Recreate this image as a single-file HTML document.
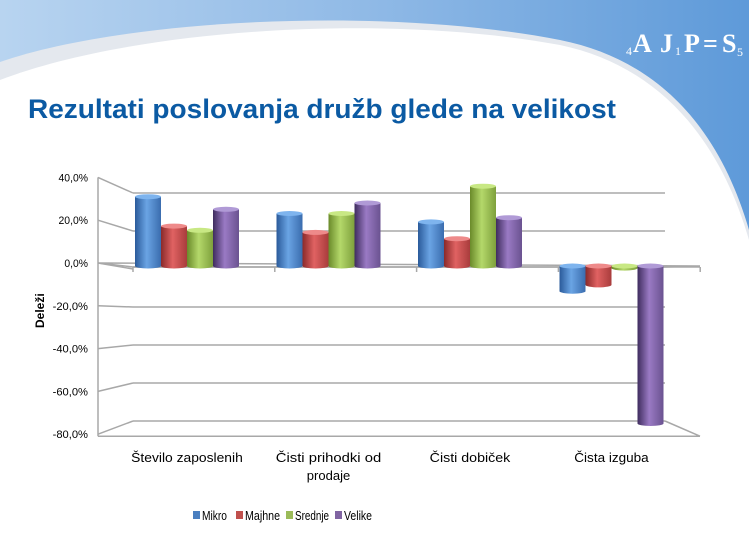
<!DOCTYPE html>
<html><head><meta charset="utf-8">
<style>
html,body{margin:0;padding:0;background:#fff;}
svg{display:block;font-family:"Liberation Sans",sans-serif;}
</style></head>
<body>
<svg width="749" height="533" viewBox="0 0 749 533">
<defs>
<linearGradient id="hdr" x1="0" x2="1" y1="0" y2="0">
<stop offset="0" stop-color="#b8d4f0"/><stop offset="0.5" stop-color="#8fb9e6"/><stop offset="1" stop-color="#5e9ad9"/>
</linearGradient>
<linearGradient id="gMikro" x1="0" x2="1"><stop offset="0" stop-color="#2a5a9a"/><stop offset="0.45" stop-color="#6aa4e4"/><stop offset="1" stop-color="#3a6cae"/></linearGradient>
<linearGradient id="gMajhne" x1="0" x2="1"><stop offset="0" stop-color="#8a2a2a"/><stop offset="0.45" stop-color="#e06262"/><stop offset="1" stop-color="#a83c3c"/></linearGradient>
<linearGradient id="gSrednje" x1="0" x2="1"><stop offset="0" stop-color="#6a8a2a"/><stop offset="0.45" stop-color="#b4d86a"/><stop offset="1" stop-color="#7ea03c"/></linearGradient>
<linearGradient id="gVelike" x1="0" x2="1"><stop offset="0" stop-color="#3e2c5e"/><stop offset="0.45" stop-color="#9a7ac4"/><stop offset="1" stop-color="#6a5290"/></linearGradient>
</defs>
<g>
<rect x="0" y="0" width="749" height="240" fill="url(#hdr)"/>
<path d="M0,160 L0,62 C120,20 380,5 560,40 C660,60 720,130 749,230 L749,533 L0,533 Z" fill="#e4e8ee"/>
<path d="M0,200 L0,80 C130,30 380,12 560,45 C660,66 720,140 749,240 L749,533 L0,533 Z" fill="#fff"/>
</g>
<g fill="#fff" font-family="Liberation Serif, serif">
<text x="626" y="55" font-size="12">4</text>
<text x="633" y="52" font-size="26" font-weight="bold">A</text>
<text x="660" y="52" font-size="26" font-weight="bold">J</text>
<text x="675" y="55" font-size="12">1</text>
<text x="684" y="52" font-size="26" font-weight="bold">P</text>
<text x="703" y="52" font-size="26" font-weight="bold">=</text>
<text x="722" y="52" font-size="26" font-weight="bold">S</text>
<text x="737" y="56" font-size="12">5</text>
</g>
<text x="28" y="118" font-size="27" font-weight="bold" fill="#0b5aa3" textLength="588" lengthAdjust="spacingAndGlyphs">Rezultati poslovanja družb glede na velikost</text>
<g id="chart"></g>
</svg>
<script>
const categories = ["Število zaposlenih", "Čisti prihodki od|prodaje", "Čisti dobiček", "Čista izguba"];
const series = ["Mikro", "Majhne", "Srednje", "Velike"];
const mikro = [33, 25, 21, -12];
const majhne = [19, 16, 13, -9];
const srednje = [17, 25, 38, -1];
const velike = [27, 30, 23, -75];
const ticks = [40, 20, 0, -20, -40, -60, -80];
const tickLabels = ["40,0%", "20,0%", "0,0%", "-20,0%", "-40,0%", "-60,0%", "-80,0%"];

const NS = "http://www.w3.org/2000/svg";
const chart = document.getElementById("chart");
function mk(tag, attrs, parent) {
  const e = document.createElementNS(NS, tag);
  for (const k in attrs) e.setAttribute(k, attrs[k]);
  (parent || chart).appendChild(e);
  return e;
}
const yFront = v => 263 - v * 2.14;
const yBack = v => 269 - v * 1.9;
const yBar = v => 266 - v * 2.1;
const FX = 98, BX = 133, BR = 665, FR = 700;
const catStart = i => 135 + i * 141.5;
const barW = 26;

ticks.forEach((t, i) => {
  if (t !== 0) {
    const l = mk("line", {x1: BX, y1: yBack(t), x2: BR, y2: yBack(t), stroke: "#a8a8a8", "stroke-width": 1.5});
    
    
  }
  const d = mk("line", {x1: FX, y1: yFront(t), x2: BX, y2: yBack(t), stroke: "#a8a8a8", "stroke-width": 1.5});
  
  
  const tx = mk("text", {x: 88, y: yFront(t) + 4, "text-anchor": "end", "font-size": 11, fill: "#000", textLength: tickLabels[i].length * 5.9, lengthAdjust: "spacingAndGlyphs"});
  tx.textContent = tickLabels[i];
  
  
});
const ax = mk("line", {x1: FX, y1: yFront(40), x2: FX, y2: yFront(-80) + 2, stroke: "#a8a8a8", "stroke-width": 1.5});


const bwall = mk("line", {x1: BR, y1: yBack(-80), x2: FR, y2: yFront(-80) + 2, stroke: "#a8a8a8", "stroke-width": 1.5});


const fl = mk("line", {x1: FX, y1: yFront(-80) + 2, x2: FR, y2: yFront(-80) + 2, stroke: "#a8a8a8", "stroke-width": 1.5});


const zp = mk("path", {d: `M${FX},${yFront(0)} L${BX},${yBack(0)-2} L${BR},${yBack(0)-2} L${FR},${yFront(0)+3} Z`, fill: "none", stroke: "#a8a8a8", "stroke-width": 1.5});


const zf = mk("line", {x1: BX, y1: yFront(0) + 4, x2: FR, y2: yFront(0) + 4, stroke: "#a8a8a8", "stroke-width": 1.5});


for (let i = 0; i <= 4; i++) {
  const x = 133 + i * 141.8;
  const tk = mk("line", {x1: x, y1: yFront(0) + 4, x2: x, y2: yFront(0) + 9, stroke: "#a8a8a8", "stroke-width": 1.5});
  
  
}

const allVals = [mikro, majhne, srednje, velike];
const grads = ["gMikro", "gMajhne", "gSrednje", "gVelike"];
const tops = ["#7eb4ee", "#ee8a8a", "#c8e884", "#b09ad6"];
categories.forEach((c, ci) => {
  series.forEach((s, si) => {
    const v = allVals[si][ci];
    const x = catStart(ci) + si * barW;
    const y0 = yBar(0), y1 = yBar(v);
    const top = Math.min(y0, y1), bot = Math.max(y0, y1);
    const g = mk("g", {});
    
    
    const rx = barW / 2, ry = 2.5;
    mk("path", {d: `M${x},${top} L${x},${bot} A${rx},${ry} 0 0 0 ${x + barW},${bot} L${x + barW},${top} Z`, fill: `url(#${grads[si]})`}, g);
    mk("ellipse", {cx: x + rx, cy: top, rx: rx, ry: ry, fill: tops[si]}, g);
  });
  const lines = c.split("|");
  lines.forEach((ln, li) => {
    const t = mk("text", {x: catStart(ci) + 2 * barW, y: 462 + li * 18, "text-anchor": "middle", "font-size": 12.5, fill: "#000", textLength: ln.length * 6.2, lengthAdjust: "spacingAndGlyphs"});
    t.textContent = ln;
    
    
  });
});

const yt = mk("text", {x: 0, y: 0, "font-size": 12, "font-weight": "bold", transform: "translate(44,328) rotate(-90)"});
yt.textContent = "Deleži";



const legX = [193, 236, 286, 335];
const legW = [25, 35, 34, 28];
const legC = ["#4a7fc0", "#c0504d", "#9bbb59", "#8064a2"];
series.forEach((s, i) => {
  const g = mk("g", {});
  
  
  mk("rect", {x: legX[i], y: 511, width: 7, height: 8, fill: legC[i]}, g);
  const t = mk("text", {x: legX[i] + 9, y: 520, "font-size": 12.5, fill: "#000", textLength: legW[i], lengthAdjust: "spacingAndGlyphs"}, g);
  t.textContent = s;
});
</script>
</body></html>
